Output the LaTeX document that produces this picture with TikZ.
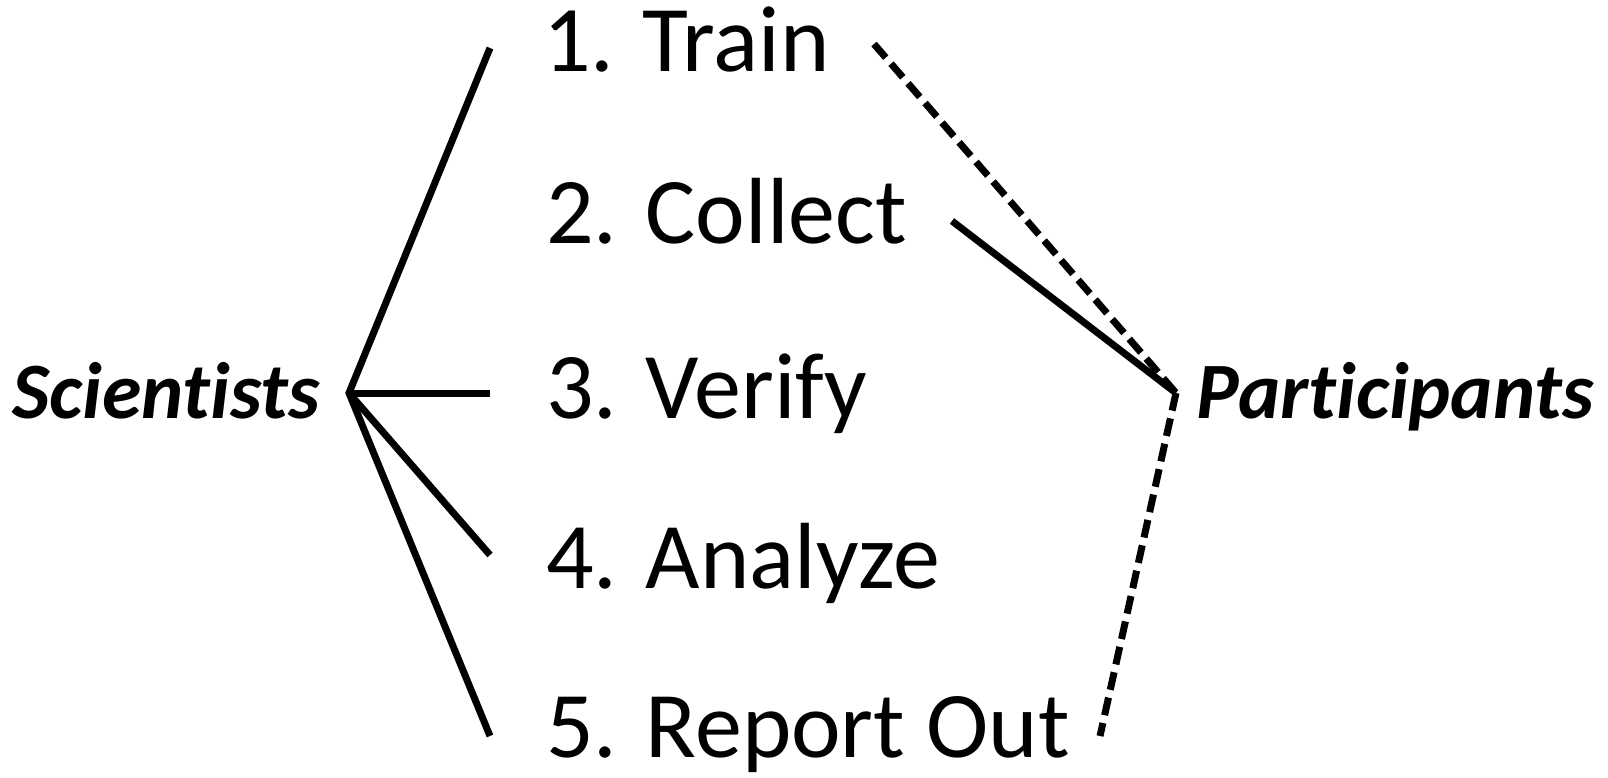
\documentclass[tikz,border=0pt]{standalone}
\usepackage{fontspec}
\setmainfont[Ligatures=NoCommon]{Carlito}
\begin{document}
\begin{tikzpicture}[x=1pt,y=-1pt,
  conn/.style={line width=7pt},
  dconn/.style={line width=7pt, dash pattern=on 18pt off 8pt},
  step label/.style={anchor=base west, inner sep=0pt, font=\fontsize{94}{100}\selectfont},
  role/.style={inner sep=0pt, font=\fontsize{80}{90}\selectfont\bfseries\itshape}]
\useasboundingbox (0,0) rectangle (1608,778);
% labels
\node[step label] (l1) at (543,72) {1. Train};
\node[step label] (l2) at (546,243) {2. Collect};
\node[step label] (l3) at (546,418) {3. Verify};
\node[step label] (l4) at (546,588) {4. Analyze};
\node[step label] (l5) at (546,757) {5. Report Out};
\node[role, anchor=base west] (sci) at (12,418) {Scientists};
\node[role, anchor=base east] (par) at (1594,418) {Participants};
% hubs and line ends
\coordinate (sh) at (349,393);
\coordinate (ph) at (1176,393);
\coordinate (e1) at (490,48);
\coordinate (e3) at (490,393);
\coordinate (e4) at (490,555);
\coordinate (e5) at (490,736);
\coordinate (c2) at (952,221);
\coordinate (t1) at (874,44);
\coordinate (r5) at (1100,736);
% connectors
\draw[conn] (e1) -- (sh) -- (e5);
\draw[conn] (sh) -- (e3);
\draw[conn] (sh) -- (e4);
\draw[conn] (c2) -- (ph);
\draw[dconn] (t1) -- (ph);
\draw[dconn] (ph) -- (r5);
\end{tikzpicture}
\end{document}
